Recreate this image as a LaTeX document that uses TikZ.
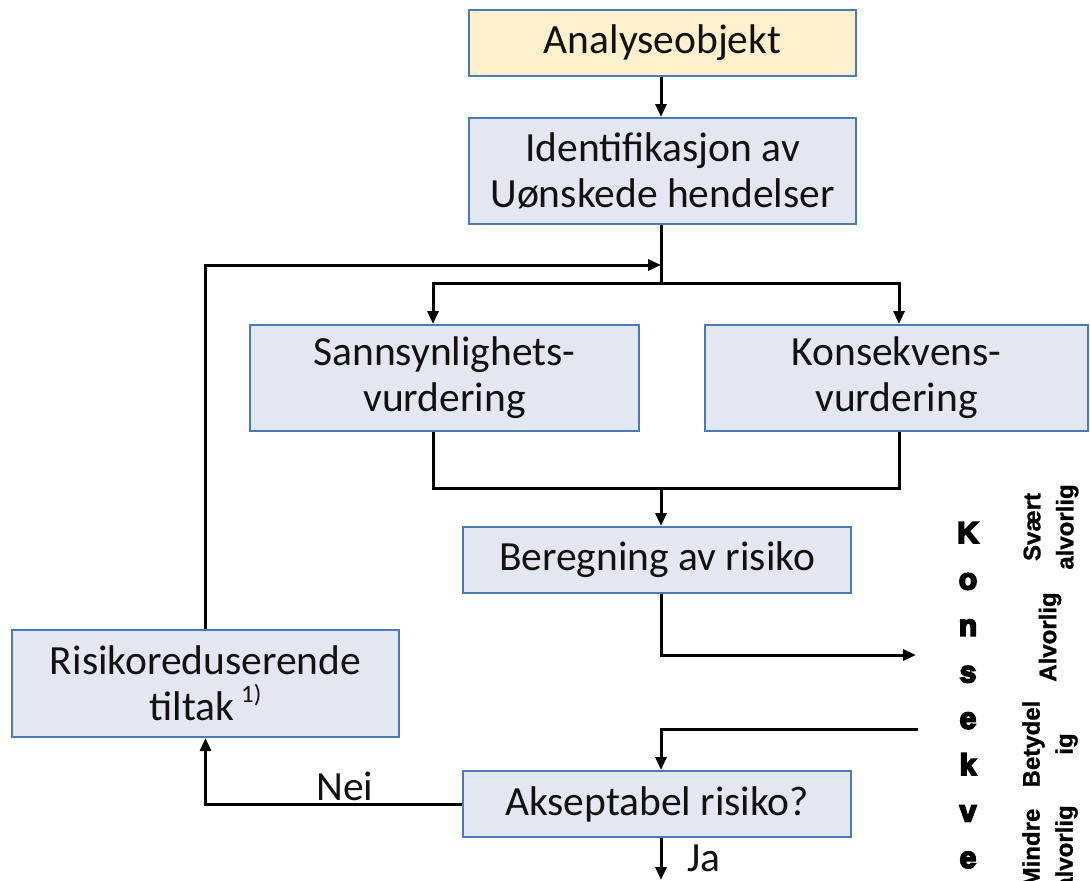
\documentclass[tikz,border=0pt]{standalone}
\usepackage{fontspec}
\setmainfont{Carlito}
\newfontfamily\arialb[FakeBold=1]{Liberation Sans Bold}
\newfontfamily\heavyb[FakeBold=6]{Liberation Sans Bold}
\usetikzlibrary{arrows.meta}
\definecolor{boxfill}{HTML}{E2E7F1}
\definecolor{yfill}{HTML}{FDF0CC}
\definecolor{boxline}{HTML}{4A7CB3}
\definecolor{txt}{HTML}{111111}
\tikzset{
  box/.style={draw=boxline, line width=2pt, fill=boxfill, inner sep=0pt, align=center,
    text=txt, font=\fontsize{41.5}{46}\selectfont},
  ln/.style={line width=3pt, line join=miter},
  conn/.style={ln, -{Triangle[length=13pt,width=11pt]}},
  lbl/.style={text=txt, font=\fontsize{41.5}{46}\selectfont},
  rot/.style={rotate=90, align=center, font=\arialb\fontsize{24}{33}\selectfont},
  heavy/.style={anchor=base, font=\heavyb\fontsize{30}{30}\selectfont}
}
\begin{document}
\begin{tikzpicture}[x=1pt,y=-1pt]
\useasboundingbox (0,0) rectangle (1090,881);
\clip (0,0) rectangle (1090,881);
% boxes
\node[box, fill=yfill, minimum width=387pt, minimum height=66pt] (ana) at (662.5,43) {Analyseobjekt};
\node[box, minimum width=387pt, minimum height=106pt] (ident) at (662.5,171) {Identifikasjon av\\Uønskede hendelser};
\node[box, minimum width=389pt, minimum height=106pt] (sann) at (444.5,378) {Sannsynlighets-\\vurdering};
\node[box, minimum width=383pt, minimum height=106pt] (kons) at (896.5,378) {Konsekvens-\\vurdering};
\node[box, minimum width=388pt, minimum height=66pt] (ber) at (657,560) {Beregning av risiko};
\node[box, minimum width=387pt, minimum height=107pt] (risk) at (205.5,683.5) {Risikoreduserende\\tiltak\,\raisebox{0.45em}{\fontsize{25}{25}\selectfont 1)}};
\node[box, minimum width=388pt, minimum height=66pt] (akse) at (657,804) {Akseptabel risiko?};
% helper coordinates
\coordinate (mx) at (661,0);
\coordinate (sx) at (433,0);
\coordinate (kx) at (899,0);
\coordinate (j1) at (661,283);
\coordinate (fb) at (661,265);
\coordinate (j2) at (661,488);
\coordinate (out) at (916,655);
\coordinate (in) at (918,729);
\coordinate (end) at (661,880);
% connectors
\draw[conn] (ana.south -| mx) -- (ident.north -| mx);
\draw[ln] (ident.south -| mx) -- (j1);
\draw[conn] (j1) -| (sann.north -| sx);
\draw[conn] (j1) -| (kons.north -| kx);
\draw[conn] (risk.north) |- (fb);
\draw[ln] (sann.south -| sx) |- (j2) -| (kons.south -| kx);
\draw[conn] (j2) -- (ber.north -| mx);
\draw[conn] (ber.south -| mx) |- (out);
\draw[conn] (in) -| (akse.north -| mx);
\draw[conn] (akse.west) -| (risk.south);
\draw[conn] (akse.south -| mx) -- (end);
\node[lbl] (nei) at (345,786) {Nei};
\node[lbl] (ja) at (704,858) {Ja};
% right side
\foreach \l [count=\i from 0] in {K,o,n,s,e,k,v,e}
  \node[heavy] (kl\i) at (968,543+46.4*\i) {\l};
\node[rot] (sv) at (1051,527) {Svært\\alvorlig};
\node[rot] (al) at (1050,637) {Alvorlig};
\node[rot] (be) at (1050,744) {Betydel\\ig};
\node[rot] (mi) at (1050,848) {Mindre\\alvorlig};
\end{tikzpicture}
\end{document}
